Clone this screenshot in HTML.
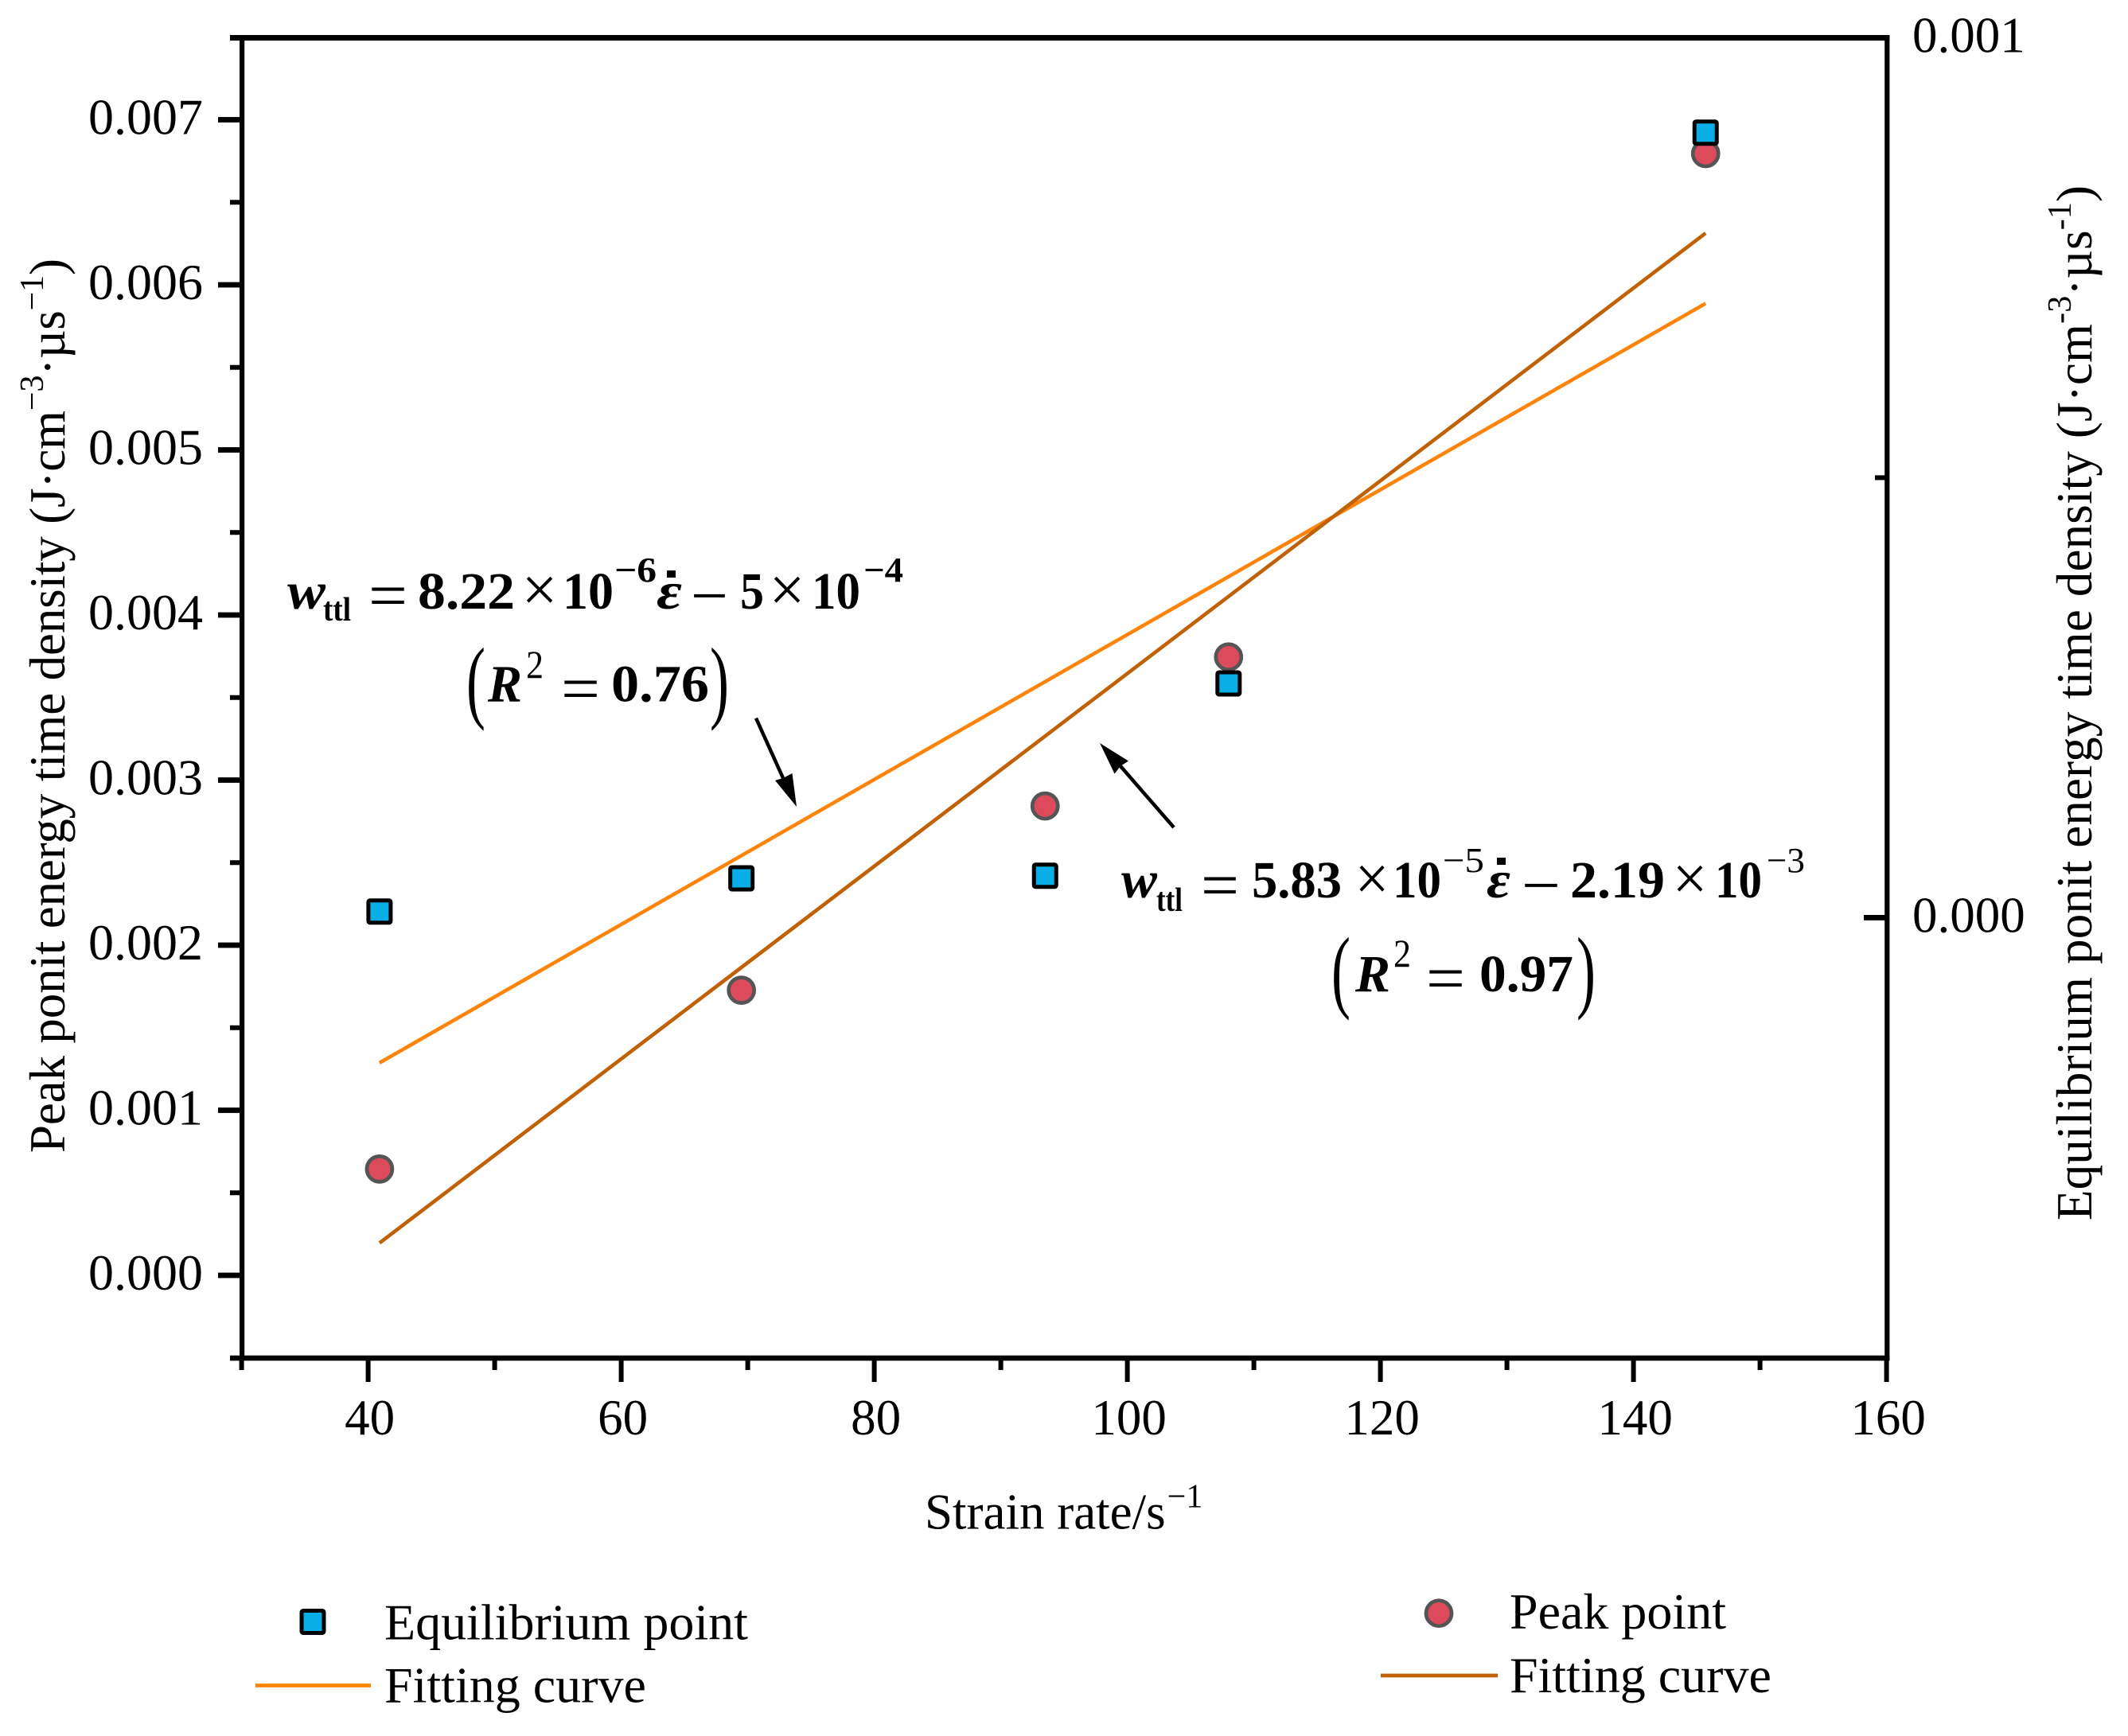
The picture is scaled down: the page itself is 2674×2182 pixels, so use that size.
<!DOCTYPE html>
<html lang="en">
<head>
<meta charset="utf-8">
<title>Strain rate vs point energy time density</title>
<style>
html,body{margin:0;padding:0;background:#fff;}
svg{display:block;}
text{font-family:"Liberation Serif","Times New Roman",serif;fill:#000;}
.eq{font-weight:bold;font-size:66px;}
.it{font-style:italic;}
.sup{font-size:44px;}
.lab{font-size:63px;}
.leg{font-size:64px;}
</style>
</head>
<body>
<svg id="chart" xmlns="http://www.w3.org/2000/svg" width="2674" height="2182" viewBox="0 0 2674 2182">
  <rect x="0" y="0" width="2674" height="2182" fill="#ffffff"/>
  <g id="ticks"></g>
  <g id="marks"></g>

  <g fill="#000">
    <rect x="301" y="44" width="6.2" height="1666"/>
    <rect x="2368.2" y="44" width="6.2" height="1666"/>
    <rect x="289" y="44" width="2085.4" height="7"/>
    <rect x="289" y="1703.7" width="2085.4" height="6.6"/>
  </g>

  <text class="lab" x="1162" y="1921.7">Strain rate/s<tspan dx="2" dy="-27" font-size="42">−1</tspan></text>
  <text class="lab" transform="translate(81,1449) rotate(-90)" textLength="1124" lengthAdjust="spacing">Peak ponit energy time density (J·cm<tspan dy="-27" font-size="42">−3</tspan><tspan dy="27">·µs</tspan><tspan dy="-27" font-size="42">−1</tspan><tspan dy="27">)</tspan></text>
  <text font-size="63" transform="translate(2628,1534) rotate(-90)" textLength="1301" lengthAdjust="spacing">Equilibrium ponit energy time density (J·cm<tspan dy="-26" font-size="42">-3</tspan><tspan dy="26">·µs</tspan><tspan dy="-26" font-size="42">-1</tspan><tspan dy="26">)</tspan></text>

  <g>
    <text class="eq it" x="361" y="765" textLength="48" lengthAdjust="spacingAndGlyphs">w</text>
    <text class="eq" style="font-size:42px" x="406" y="780" textLength="35" lengthAdjust="spacingAndGlyphs">ttl</text>
    <text class="eq" style="font-weight:normal;font-size:82px" x="463" y="776" textLength="49" lengthAdjust="spacingAndGlyphs">=</text>
    <text class="eq" x="525" y="765" textLength="122" lengthAdjust="spacingAndGlyphs">8.22</text>
    <text class="eq" style="font-weight:normal;font-size:80px" x="655.5" y="768" textLength="45" lengthAdjust="spacingAndGlyphs">×</text>
    <text class="eq" x="707" y="765" textLength="64" lengthAdjust="spacingAndGlyphs">10</text>
    <text class="eq sup" style="font-size:44px" x="772" y="731" textLength="53" lengthAdjust="spacingAndGlyphs">−6</text>
    <text class="eq it" x="825" y="765" textLength="32" lengthAdjust="spacingAndGlyphs">ε</text>
    <rect x="838" y="717" width="11" height="9" fill="#000"/>
    <text class="eq" style="font-weight:normal;font-size:82px" x="868" y="776" textLength="47" lengthAdjust="spacingAndGlyphs">−</text>
    <text class="eq" x="930" y="765" textLength="30" lengthAdjust="spacingAndGlyphs">5</text>
    <text class="eq" style="font-weight:normal;font-size:80px" x="966.5" y="768" textLength="45" lengthAdjust="spacingAndGlyphs">×</text>
    <text class="eq" x="1020" y="765" textLength="61" lengthAdjust="spacingAndGlyphs">10</text>
    <text class="eq sup" style="font-size:44px" x="1085" y="731" textLength="50" lengthAdjust="spacingAndGlyphs">−4</text>
    <text font-size="116" transform="translate(586,894) scale(0.62,1)">(</text>
    <text class="eq it" x="613" y="881.7" textLength="43" lengthAdjust="spacingAndGlyphs">R</text>
    <text class="eq" style="font-weight:normal;font-size:50px" x="661" y="852" textLength="22" lengthAdjust="spacingAndGlyphs">2</text>
    <text class="eq" style="font-weight:normal;font-size:82px" x="705" y="893" textLength="49" lengthAdjust="spacingAndGlyphs">=</text>
    <text class="eq" x="768" y="881.7" textLength="123" lengthAdjust="spacingAndGlyphs">0.76</text>
    <text font-size="116" transform="translate(892,894) scale(0.62,1)">)</text>
  </g>

  <g>
    <text class="eq it" x="1409" y="1128" textLength="45" lengthAdjust="spacingAndGlyphs">w</text>
    <text class="eq" style="font-size:42px" x="1453" y="1145" textLength="33" lengthAdjust="spacingAndGlyphs">ttl</text>
    <text class="eq" style="font-weight:normal;font-size:82px" x="1509" y="1140" textLength="48" lengthAdjust="spacingAndGlyphs">=</text>
    <text class="eq" x="1573" y="1128" textLength="113" lengthAdjust="spacingAndGlyphs">5.83</text>
    <text class="eq" style="font-weight:normal;font-size:80px" x="1702.5" y="1131" textLength="43" lengthAdjust="spacingAndGlyphs">×</text>
    <text class="eq" x="1750" y="1128" textLength="61" lengthAdjust="spacingAndGlyphs">10</text>
    <text class="eq" style="font-weight:normal;font-size:44px" x="1813" y="1096" textLength="52" lengthAdjust="spacingAndGlyphs">−5</text>
    <text class="eq it" x="1868" y="1128" textLength="30" lengthAdjust="spacingAndGlyphs">ε</text>
    <rect x="1881" y="1078" width="11" height="9" fill="#000"/>
    <text class="eq" style="font-weight:normal;font-size:82px" x="1912" y="1140" textLength="49" lengthAdjust="spacingAndGlyphs">−</text>
    <text class="eq" x="1973" y="1128" textLength="119" lengthAdjust="spacingAndGlyphs">2.19</text>
    <text class="eq" style="font-weight:normal;font-size:80px" x="2101.5" y="1131" textLength="44" lengthAdjust="spacingAndGlyphs">×</text>
    <text class="eq" x="2155" y="1128" textLength="59" lengthAdjust="spacingAndGlyphs">10</text>
    <text class="eq" style="font-weight:normal;font-size:44px" x="2220" y="1096" textLength="48" lengthAdjust="spacingAndGlyphs">−3</text>
    <text font-size="116" transform="translate(1673,1258) scale(0.62,1)">(</text>
    <text class="eq it" x="1703" y="1246" textLength="44" lengthAdjust="spacingAndGlyphs">R</text>
    <text class="eq" style="font-weight:normal;font-size:50px" x="1751" y="1215" textLength="22" lengthAdjust="spacingAndGlyphs">2</text>
    <text class="eq" style="font-weight:normal;font-size:82px" x="1792" y="1257" textLength="49" lengthAdjust="spacingAndGlyphs">=</text>
    <text class="eq" x="1859" y="1246" textLength="118" lengthAdjust="spacingAndGlyphs">0.97</text>
    <text font-size="116" transform="translate(1981,1258) scale(0.62,1)">)</text>
  </g>

  <g>
    <line x1="950" y1="902.7" x2="984" y2="978" stroke="#000" stroke-width="4.5"/>
    <polygon points="1001,1014 974,981 984,978 995.5,972" fill="#000"/>
  </g>
  <g>
    <line x1="1475" y1="1040" x2="1408" y2="963" stroke="#000" stroke-width="4.5"/>
    <polygon points="1382,934 1418,956.5 1408,963 1400.5,972.5" fill="#000"/>
  </g>

  <g>
    <rect x="379" y="2024.5" width="28" height="28" rx="2" fill="#09AEE6" stroke="#000" stroke-width="5"/>
    <text class="leg" x="483" y="2060.5">Equilibrium point</text>
    <line x1="321" y1="2118.5" x2="466" y2="2118.5" stroke="#FF8409" stroke-width="4.8"/>
    <text class="leg" x="483" y="2139.5">Fitting curve</text>
  </g>
  <g>
    <circle cx="1808" cy="2027.7" r="16" fill="#DC4A5C" stroke="#555555" stroke-width="4.7"/>
    <text class="leg" x="1897" y="2047">Peak point</text>
    <line x1="1735" y1="2106" x2="1882" y2="2106" stroke="#BF6104" stroke-width="4.8"/>
    <text class="leg" x="1897" y="2127">Fitting curve</text>
  </g>
</svg>
<script>
const strainRates = [40.9, 69.5, 93.5, 108, 145.7];
const equilibriumValues = [0.0000069, 0.0000447, 0.0000476, 0.0002662, 0.0008921];
const peakValues = [0.000644, 0.001727, 0.002843, 0.003746, 0.006795];
const fitStrainRates = [40.9, 145.7];
const equilibriumFitValues = [-0.000165, 0.000698];
const peakFitValues = [0.000196, 0.006313];
const xMajorTicks = [40, 60, 80, 100, 120, 140, 160];
const xMinorTicks = [30, 50, 70, 90, 110, 130, 150];
const leftMajorTicks = [0, 0.001, 0.002, 0.003, 0.004, 0.005, 0.006, 0.007];
const leftTickLabels = ["0.000", "0.001", "0.002", "0.003", "0.004", "0.005", "0.006", "0.007"];
const leftMinorTicks = [0.0005, 0.0015, 0.0025, 0.0035, 0.0045, 0.0055, 0.0065];
const rightMajorTicks = [0, 0.001];
const rightTickLabels = ["0.000", "0.001"];
const rightMinorTicks = [0.0005];

function xScale(v) { return 303.6 + (v - 30) * 15.9; }
function yLeft(v) { return 1603 - v * 207500; }
function yRight(v) { return 1153.4 - v * 1106000; }

const NS = "http://www.w3.org/2000/svg";
const ticksLayer = document.getElementById("ticks");
const marksLayer = document.getElementById("marks");

function make(tag, attrs, parent) {
  const el = document.createElementNS(NS, tag);
  for (const k in attrs) el.setAttribute(k, attrs[k]);
  parent.appendChild(el);
  return el;
}

xMajorTicks.forEach(function (v) {
  const el = make("rect", { x: xScale(v) - 3, y: 1707, width: 6, height: 30, fill: "#000" }, ticksLayer);
  
  
  const t = make("text", { x: xScale(v) + 2, y: 1803, "text-anchor": "middle", "font-size": 63 }, ticksLayer);
  t.textContent = String(v);
  
  
});
xMinorTicks.forEach(function (v) {
  const el = make("rect", { x: xScale(v) - 3, y: 1707, width: 6, height: 15, fill: "#000" }, ticksLayer);
  
  
});
leftMajorTicks.forEach(function (v, i) {
  const el = make("rect", { x: 274, y: yLeft(v) - 3.4, width: 30, height: 6.8, fill: "#000" }, ticksLayer);
  
  
  const t = make("text", { x: 255, y: yLeft(v) + 18, "text-anchor": "end", "font-size": 64 }, ticksLayer);
  t.textContent = leftTickLabels[i];
  
  
});
leftMinorTicks.forEach(function (v) {
  const el = make("rect", { x: 289, y: yLeft(v) - 3, width: 15, height: 6, fill: "#000" }, ticksLayer);
  
  
});
rightMajorTicks.forEach(function (v, i) {
  const el = make("rect", { x: 2342, y: yRight(v) - 3.4, width: 29, height: 6.8, fill: "#000" }, ticksLayer);
  
  
  const t = make("text", { x: 2403, y: yRight(v) + 18, "font-size": 63 }, ticksLayer);
  t.textContent = rightTickLabels[i];
  
  
});
rightMinorTicks.forEach(function (v) {
  const el = make("rect", { x: 2356, y: yRight(v) - 3, width: 15, height: 6, fill: "#000" }, ticksLayer);
  
  
});

const equilibriumFitLine = make("line", {
  x1: xScale(fitStrainRates[0]), y1: yRight(equilibriumFitValues[0]),
  x2: xScale(fitStrainRates[1]), y2: yRight(equilibriumFitValues[1]),
  stroke: "#FF8409", "stroke-width": 4.6
}, marksLayer);



const peakFitLine = make("line", {
  x1: xScale(fitStrainRates[0]), y1: yLeft(peakFitValues[0]),
  x2: xScale(fitStrainRates[1]), y2: yLeft(peakFitValues[1]),
  stroke: "#BF6104", "stroke-width": 4.6
}, marksLayer);



strainRates.forEach(function (x, i) {
  const c = make("circle", {
    cx: xScale(x), cy: yLeft(peakValues[i]), r: 16,
    fill: "#DC4A5C", stroke: "#555555", "stroke-width": 4.7
  }, marksLayer);
  
  
});
strainRates.forEach(function (x, i) {
  const s = make("rect", {
    x: xScale(x) - 14, y: yRight(equilibriumValues[i]) - 14, width: 28, height: 28, rx: 2,
    fill: "#09AEE6", stroke: "#000", "stroke-width": 5
  }, marksLayer);
  
  
});
</script>
</body>
</html>
